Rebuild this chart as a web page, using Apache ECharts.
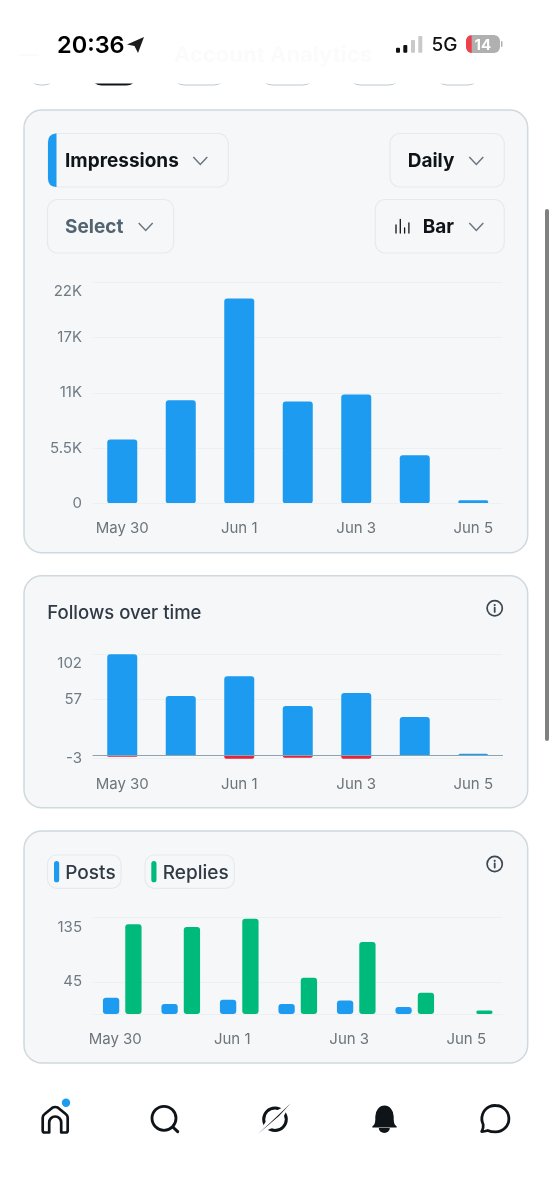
<!DOCTYPE html>
<html>
<head>
<meta charset="utf-8">
<title>Account Analytics</title>
<script src="https://cdn.jsdelivr.net/npm/echarts@6/dist/echarts.min.js"></script>
<style>
  html, body { margin: 0; padding: 0; background: #fff; }
  #chart { width: 552px; height: 1200px; }
</style>
</head>
<body>
<div id="chart"></div>
<script>
// Dates shared by the three panels
const days = ['May 30', 'May 31', 'Jun 1', 'Jun 2', 'Jun 3', 'Jun 4', 'Jun 5'];

// Impressions per day
const impressions = [6370, 10280, 20400, 10150, 10850, 4800, 330];
const impressionTicks = [0, 5500, 11000, 16500, 22000];
const impressionTickLabels = ['0', '5.5K', '11K', '17K', '22K'];

// Follows and unfollows per day
const follows = [102, 60, 80, 50, 63, 39, 2];
const unfollows = [-1, 0, -3, -2, -3, 0, 0];
const followTicks = [-3, 57, 102];

// Posts and replies per day
const posts = [23, 14, 20, 14, 19, 10, 0];
const replies = [126, 122, 133.5, 51, 101, 30, 5];
const activityGridTicks = [0, 45, 135];
const activityLabelTicks = [45, 135];

const BLUE = '#1d9bf0', GREEN = '#00ba7c', RED = '#e0243d';
const FONT = 'Inter, "Noto Sans", sans-serif';
const GRID_LINE = '#edf0f2', TICK_TEXT = '#6f7b85';
const DARK = '#0f1419', SLATE = '#2f3a45', CHEVRON = '#6b7680';

const panelGrid = (top, height) => ({ left: 93, width: 409.5, top, height });

function categoryAxis(gridIndex, labelPadding, axisColor, margin) {
  return {
    type: 'category', gridIndex, data: days, z: 5,
    axisTick: { show: false },
    axisLine: { show: true, onZero: true, lineStyle: { color: axisColor, width: 1.2 } },
    axisLabel: {
      interval: 1, margin, fontFamily: FONT, fontSize: 15,
      color: '#6c747b', padding: labelPadding
    }
  };
}

function valueAxisBase(gridIndex, min, max) {
  return {
    type: 'value', gridIndex, min, max,
    axisLine: { show: false },
    splitLine: { show: true, lineStyle: { color: GRID_LINE, width: 1.2 } },
    axisLabel: {
      margin: 11, fontFamily: FONT, fontSize: 15, color: TICK_TEXT,
      padding: [2, 0, 0, 0],
      verticalAlignMaxLabel: 'top'
    }
  };
}

// Icon outlines registered as graphic shapes
const iconPaths = {
  batteryLow: 'M6 0 H5.7 V18 H6 A6 6 0 0 1 0 12 V6 A6 6 0 0 1 6 0 Z',
  metricAccent: 'M8.5 0 V53.5 H8 Q0 53 0 45 V8.5 Q0 .5 8 0 Z',
  navHome: 'M0 24 V11 Q0 9 2 7.5 L10 1 Q12.5 0 15 1 L23 7.5 Q25 9 25 11 V24 Q25 26 23 26 H18.5 V16 A6 6 0 0 0 6.5 16 V26 H2 Q0 26 0 24 Z',
  navBell: 'M0 21 L2 19 Q3 17 3 14 V11 A9.2 11 0 0 1 21.4 11 V14 Q21.4 17 22.4 19 L24.4 21 V22 H0 Z',
  navBellClapper: 'M0 0 H11 A5.5 5 0 0 1 0 0 Z',
  navChat: 'M14 0 A13.2 13.2 0 0 1 14 26.4 Q9 26.4 6 25 Q3 26 0 26 Q2 23 1.5 19 A13.2 13.2 0 0 1 14 0 Z'
};
Object.keys(iconPaths).forEach(name => {
  echarts.graphic.registerShape(name, echarts.graphic.extendPath(iconPaths[name], {}));
});

// Page furniture helpers
const text = (str, x, y, fontSize, fontWeight, fill, align) => ({
  type: 'text', z: 10,
  style: { text: str, x, y, fontFamily: FONT, fontSize, fontWeight, fill, align: align || 'left', verticalAlign: 'middle' }
});
const box = (x, y, w, h, r, fill, stroke, lineWidth, z) => ({
  type: 'rect', z: z === undefined ? 0 : z,
  shape: { x, y, width: w, height: h, r },
  style: { fill: fill || 'none', stroke: stroke || 'none', lineWidth: lineWidth || 0 }
});
const line = (x1, y1, x2, y2, stroke, lineWidth) => ({
  type: 'line', z: 10, shape: { x1, y1, x2, y2 },
  style: { stroke, lineWidth, lineCap: 'round' }
});
const chevron = (cx, cy) => ({
  type: 'polyline', z: 10,
  shape: { points: [[cx - 7, cy - 3.8], [cx, cy + 3.8], [cx + 7, cy - 3.8]] },
  style: { stroke: CHEVRON, lineWidth: 1.5, fill: 'none' }
});
const poly = (points, fill) => ({
  type: 'polygon', z: 10, shape: { points }, style: { fill }
});
const glyph = (name, x, y, style) => ({ type: name, z: 10, x, y, style });
const infoIcon = (cx, cy) => [
  { type: 'circle', z: 10, shape: { cx, cy, r: 7.6 }, style: { fill: 'none', stroke: '#3d4852', lineWidth: 1.7 } },
  { type: 'circle', z: 10, shape: { cx, cy: cy - 3.2, r: 1.1 }, style: { fill: '#3d4852' } },
  line(cx, cy - 0.6, cx, cy + 3.6, '#3d4852', 1.8)
];

const PILL_STROKE = '#e6eaed', CARD_FILL = '#f6f7f8', CARD_STROKE = '#cfd9de';

const furniture = [
  // Tab row, mostly scrolled away under the header
  box(28, 50, 28, 35, 12, 'none', '#bccad4', 1),
  box(90, 50, 48, 35.5, 12, DARK),
  box(172, 50, 54, 35, 12, 'none', '#bccad4', 1),
  box(260, 50, 55, 35, 12, 'none', '#bccad4', 1),
  box(348, 50, 53, 35, 12, 'none', '#bccad4', 1),
  box(435, 50, 45, 35, 12, 'none', '#bccad4', 1),
  { type: 'rect', z: 1, shape: { x: 0, y: 0, width: 552, height: 83.5 }, style: { fill: '#fff' } },

  // Faint header
  text('Account Analytics', 174, 55, 22, 700, '#fbfbfb'),
  line(20, 55, 38, 55, '#fbfbfb', 2),

  // Status bar
  text('20:36', 57, 45.5, 23.5, 600, '#000'),
  poly([[144, 37], [138, 53], [134.5, 46], [127, 44.5]], '#1c1c1c'),
  box(396, 47.7, 4, 5, 1, '#111', null, 0, 10),
  box(403.3, 45, 4, 7.7, 1, '#111', null, 0, 10),
  box(411, 40, 4, 12.7, 1, '#c9c9c9', null, 0, 10),
  box(418.3, 36, 4, 16.7, 1, '#c9c9c9', null, 0, 10),
  text('5G', 431.5, 45.5, 19, 500, '#111'),
  box(466, 35, 34, 18, 6, '#b0b0b0', null, 0, 10),
  glyph('batteryLow', 466, 35, { fill: '#ef4049' }),
  box(501, 41, 1.5, 6, 0.7, '#b0b0b0', null, 0, 10),
  text('14', 482.8, 45, 15, 700, '#fff', 'center'),

  // Scrollbar
  box(545, 209, 4, 532, 2, '#808080', null, 0, 10),

  // Panels
  box(24, 110, 503.7, 442.7, 18, CARD_FILL, CARD_STROKE, 1.5),
  box(24, 575.7, 503.7, 232, 18, CARD_FILL, CARD_STROKE, 1.5),
  box(24, 831, 503.7, 232, 18, CARD_FILL, CARD_STROKE, 1.5),

  // Impressions panel selectors
  box(48, 133.5, 180.3, 53.5, 10, CARD_FILL, PILL_STROKE, 1.2, 1),
  glyph('metricAccent', 48, 133.5, { fill: BLUE }),
  text('Impressions', 65, 161.3, 19, 700, DARK),
  chevron(200.3, 160.7),
  box(390, 133.5, 114.3, 53.5, 10, CARD_FILL, PILL_STROKE, 1.2, 1),
  text('Daily', 407.7, 161.3, 19, 700, DARK),
  chevron(476.3, 160.7),
  box(47.5, 199.5, 126.2, 53.5, 10, CARD_FILL, PILL_STROKE, 1.2, 1),
  text('Select', 65, 227.3, 19, 700, '#536471'),
  chevron(145.7, 226.7),
  box(375.3, 199.5, 129, 53.5, 10, CARD_FILL, PILL_STROKE, 1.2, 1),
  line(396, 225, 396, 233, DARK, 1.3),
  line(400.3, 219.5, 400.3, 233, DARK, 1.3),
  line(404.6, 228, 404.6, 233, DARK, 1.3),
  line(408.9, 223, 408.9, 233, DARK, 1.3),
  text('Bar', 422.7, 227.3, 19, 700, DARK),
  chevron(476.3, 226.7),

  // Follows panel heading
  text('Follows over time', 47.3, 613.7, 18.5, 500, SLATE),
  ...infoIcon(494.7, 608.3),

  // Posts and replies key
  box(47.5, 855, 73.5, 33.3, 9, CARD_FILL, PILL_STROKE, 1.2, 1),
  box(54, 861, 5.2, 21.3, 2.6, BLUE, null, 0, 10),
  text('Posts', 65.3, 873, 19, 500, SLATE),
  box(145, 855, 89.3, 33.3, 9, CARD_FILL, PILL_STROKE, 1.2, 1),
  box(151.3, 861, 5.2, 21.3, 2.6, GREEN, null, 0, 10),
  text('Replies', 162.7, 873, 19, 500, SLATE),
  ...infoIcon(494.7, 864),

  // Bottom navigation: home
  glyph('navHome', 42.7, 1106.5, { fill: 'none', stroke: DARK, lineWidth: 2.7, lineJoin: 'round' }),
  { type: 'circle', z: 11, shape: { cx: 66, cy: 1102.7, r: 4.2 }, style: { fill: BLUE } },

  // Search
  { type: 'circle', z: 10, shape: { cx: 164, cy: 1118.3, r: 12 }, style: { fill: 'none', stroke: DARK, lineWidth: 2.8 } },
  line(172.8, 1127, 177.7, 1131.7, DARK, 3),

  // Explore
  { type: 'circle', z: 10, shape: { cx: 275, cy: 1119.3, r: 11.3 }, style: { fill: 'none', stroke: DARK, lineWidth: 3 } },
  poly([[290.7, 1103.3], [279, 1125], [257.7, 1134.3], [271, 1113.5]], '#fff'),
  poly([[290.7, 1103.3], [271, 1122], [257.7, 1134.3], [279, 1116]], DARK),

  // Notifications
  glyph('navBell', 372.3, 1105.5, { fill: DARK }),
  glyph('navBellClapper', 378.8, 1128, { fill: DARK }),

  // Messages
  glyph('navChat', 481.7, 1105.5, { fill: 'none', stroke: DARK, lineWidth: 2.8, lineJoin: 'round' })
];

const chart = echarts.init(document.getElementById('chart'), null, { renderer: 'canvas' });

chart.setOption({
  animation: false,
  backgroundColor: '#fff',
  graphic: { elements: furniture },
  grid: [panelGrid(282.3, 221.2), panelGrid(654.3, 104.4), panelGrid(917.7, 96.4)],
  xAxis: [
    categoryAxis(0, 0, GRID_LINE, 17),
    categoryAxis(1, 0, '#8ea3b2', 18),
    categoryAxis(2, [0, 14, 0, 0], GRID_LINE, 18)
  ],
  yAxis: [
    (() => {
      const axis = valueAxisBase(0, 0, 22000);
      axis.interval = 5500;
      axis.axisLabel.formatter = v => impressionTickLabels[impressionTicks.indexOf(v)];
      return axis;
    })(),
    (() => {
      const axis = valueAxisBase(1, -3, 102);
      axis.axisTick = { show: false, customValues: followTicks };
      axis.axisLabel.customValues = followTicks;
      return axis;
    })(),
    (() => {
      const axis = valueAxisBase(2, 0, 135);
      axis.axisTick = { show: false, customValues: activityGridTicks };
      axis.axisLabel.customValues = activityLabelTicks;
      return axis;
    })()
  ],
  series: [
    {
      name: 'Impressions', type: 'bar', xAxisIndex: 0, yAxisIndex: 0, data: impressions,
      barWidth: 30, itemStyle: { color: BLUE, borderRadius: 3 }
    },
    {
      name: 'Follows', type: 'bar', xAxisIndex: 1, yAxisIndex: 1, stack: 'net', data: follows,
      barWidth: 30, itemStyle: { color: BLUE, borderRadius: [3, 3, 0, 0] }
    },
    {
      name: 'Unfollows', type: 'bar', xAxisIndex: 1, yAxisIndex: 1, stack: 'net', data: unfollows,
      barWidth: 30, itemStyle: { color: RED, borderRadius: [0, 0, 2, 2] }
    },
    {
      name: 'Posts', type: 'bar', xAxisIndex: 2, yAxisIndex: 2, data: posts,
      barWidth: 16.3, barGap: '37%', itemStyle: { color: BLUE, borderRadius: 3 }
    },
    {
      name: 'Replies', type: 'bar', xAxisIndex: 2, yAxisIndex: 2, data: replies,
      barWidth: 16.3, barGap: '37%', itemStyle: { color: GREEN, borderRadius: 3 }
    }
  ]
});
</script>
</body>
</html>
